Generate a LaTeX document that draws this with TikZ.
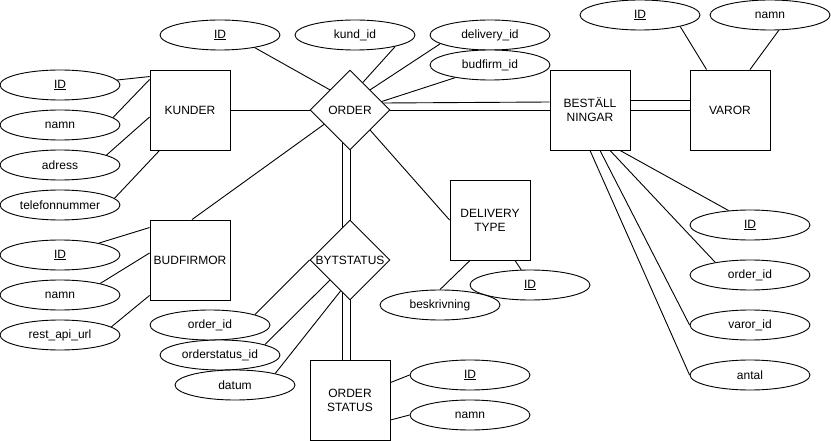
\documentclass[tikz,border=0pt]{standalone}
\usepackage{fontspec}
\setmainfont{Liberation Sans}
\usetikzlibrary{shapes.geometric}
\begin{document}
\begin{tikzpicture}[x=1pt,y=-1pt,
  every node/.style={font=\fontsize{12}{14}\selectfont},
  ent/.style={draw, fill=white, minimum width=80pt, minimum height=80pt, inner sep=0pt, align=center, line width=0.9pt},
  attr/.style={draw, ellipse, fill=white, minimum width=120pt, minimum height=30pt, inner sep=0pt, line width=0.9pt},
  rel/.style={draw, diamond, fill=white, minimum width=80pt, minimum height=80pt, inner sep=0pt, line width=0.9pt},
  conn/.style={line width=0.9pt}]
\useasboundingbox (0,0) rectangle (831,441);
% entities and relations
\node[ent] (kun) at (190,110) {KUNDER};
\node[rel,label=center:ORDER] (ord) at (350,110) {};
\node[ent] (bes) at (590,110) {BESTÄLL\\NINGAR};
\node[ent] (var) at (730,110) {VAROR};
\node[ent] (bud) at (190,260) {BUDFIRMOR};
\node[rel,label=center:BYTSTATUS] (byt) at (350,260) {};
\node[ent] (del) at (490,220) {DELIVERY\\TYPE};
\node[ent] (ost) at (350,400) {ORDER\\STATUS};
% attributes
\node[attr] (oid) at (220,35) {\underline{ID}};
\node[attr] (kid) at (355,35) {kund\_id};
\node[attr] (did) at (490,35) {delivery\_id};
\node[attr] (bfid) at (490,65) {budfirm\_id};
\node[attr] (vid) at (640,15) {\underline{ID}};
\node[attr] (vnamn) at (770,15) {namn};
\node[attr] (kidk) at (60,85) {\underline{ID}};
\node[attr] (knamn) at (60,125) {namn};
\node[attr] (kadr) at (60,165) {adress};
\node[attr] (ktel) at (60,205) {telefonnummer};
\node[attr] (bid) at (60,255) {\underline{ID}};
\node[attr] (bnamn) at (60,295) {namn};
\node[attr] (brest) at (60,335) {rest\_api\_url};
\node[attr] (boid) at (210,325) {order\_id};
\node[attr] (bosid) at (220,355) {orderstatus\_id};
\node[attr] (bdat) at (235,385) {datum};
\node[attr] (osid) at (470,375) {\underline{ID}};
\node[attr] (osnamn) at (470,415) {namn};
\node[attr] (dtid) at (530,285) {\underline{ID}};
\node[attr] (dtbes) at (440,305) {beskrivning};
\node[attr] (bsid) at (750,225) {\underline{ID}};
\node[attr] (bsoid) at (750,275) {order\_id};
\node[attr] (bsvid) at (750,325) {varor\_id};
\node[attr] (bsant) at (750,375) {antal};
% connectors
\draw[conn] (oid.-20) -- (ord.north west);
\draw[conn] (kid.-16) -- (ord.65);
\draw[conn] (did.190) -- (ord.north east);
\draw[conn] (bfid.200) -- (ord.15);
\draw[conn] (kun.east) -- (ord.west);
\draw[conn] (ord.east) -- (bes.west);
\draw[conn] ([xshift=-7pt,yshift=7pt]ord.east) -- ([yshift=8pt]bes.west);
\draw[conn] (bes.east) -- (var.west);
\draw[conn] ([yshift=10pt]bes.east) -- ([yshift=10pt]var.west);
\draw[conn] (vid.-16) -- ([xshift=17pt]var.north west);
\draw[conn] (vnamn.-60) -- ([xshift=20pt]var.north);
\draw[conn] (kidk.5) -- ([yshift=-7pt]kun.north west);
\draw[conn] (knamn.8) -- ([yshift=-10pt]kun.north west);
\draw[conn] (kadr.12) -- ([yshift=-7pt]kun.west);
\draw[conn] (ktel.7) -- ([xshift=10pt]kun.south west);
\draw[conn] (ord.209) -- ([xshift=2pt]bud.north);
\draw[conn] (ord.south east) -- (del.west);
\draw[conn] (ord.south) -- (byt.north);
\draw[conn] ([xshift=-8pt,yshift=8pt]ord.south) -- ([xshift=-8pt,yshift=-8pt]byt.north);
\draw[conn] (byt.south) -- (ost.north);
\draw[conn] ([xshift=-8pt,yshift=8pt]byt.south) -- ([xshift=-8pt]ost.north);
\draw[conn] (bid.17) -- ([yshift=-8pt]bud.north west);
\draw[conn] (bnamn.16) -- ([yshift=7pt]bud.west);
\draw[conn] (brest.9) -- ([yshift=5pt]bud.south west);
\draw[conn] (boid.13) -- (byt.west);
\draw[conn] (bosid.13) -- (byt.south west);
\draw[conn] (bdat.16) -- (byt.253);
\draw[conn] ([yshift=-23pt]ost.north east) -- (osid.west);
\draw[conn] ([yshift=-20pt]ost.east) -- (osnamn.west);
\draw[conn] ([xshift=-20pt]del.south) -- (dtbes.north);
\draw[conn] ([xshift=25pt]del.south) -- (dtid.120);
\draw[conn] ([xshift=30pt]bes.south) -- (bsid.146);
\draw[conn] ([xshift=20pt]bes.south) -- (bsoid.160);
\draw[conn] ([xshift=10pt]bes.south) -- (bsvid.west);
\draw[conn] (bes.south) -- (bsant.west);
\end{tikzpicture}
\end{document}
